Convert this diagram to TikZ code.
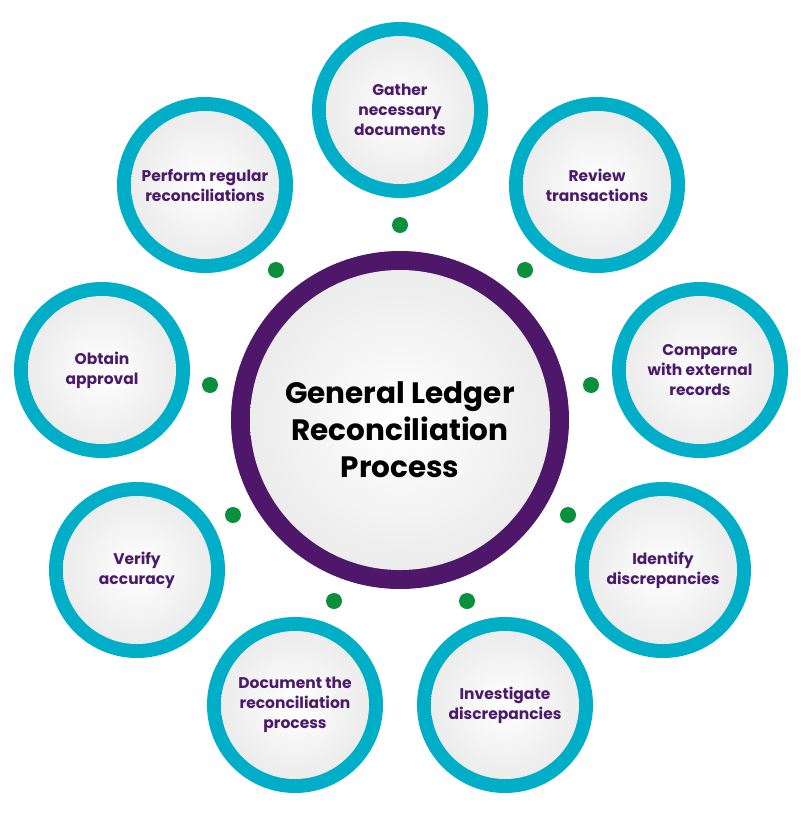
\documentclass[tikz,border=0pt]{standalone}
\usepackage{fontspec}
\setmainfont{Poppins}
\definecolor{teal1}{HTML}{00AEC7}
\definecolor{purp}{HTML}{4F1769}
\definecolor{txt}{HTML}{4B1A6B}
\definecolor{dotg}{HTML}{0A8F3C}
\begin{document}
\begin{tikzpicture}[x=1pt,y=-1pt,
  ring/.style={circle,fill=teal1,minimum size=176pt,inner sep=0pt},
  face/.style={circle,inner color=white,outer color=gray!15,minimum size=148pt,inner sep=0pt,
     font=\fontsize{15.5}{20}\selectfont\bfseries,text=txt,align=center},
  gdot/.style={circle,fill=dotg,minimum size=16pt,inner sep=0pt}]
\useasboundingbox (0,0) rectangle (800,824);
\node[circle,fill=purp,minimum size=338pt] (cr) at (400,420) {};
\node[circle,inner color=white,outer color=gray!15,minimum size=300pt,inner sep=0pt] (c) at (400,420) {};
\node[font=\fontsize{29.5}{37}\selectfont\bfseries,align=center] (ct) at (400,430)
  {General Ledger\\Reconciliation\\Process};
\foreach \n/\x/\y/\t in {
  a/400/110/{Gather\\necessary\\documents},
  b/597/185/{Review\\transactions},
  d/700/370/{Compare\\with external\\records},
  e/663/570/{Identify\\discrepancies},
  f/505/705/{Investigate\\discrepancies},
  g/295/705/{Document the\\reconciliation\\process},
  h/137/570/{Verify\\accuracy},
  i/102/370/{Obtain\\approval},
  j/205/185/{Perform regular\\reconciliations}}{
  \node[ring] (r\n) at (\x,\y) {};
  \node[face] (\n) at (\x,\y) {\t};
}
\foreach \n/\x/\y in {1/400/225,2/525/270,3/591/385,4/568/515,5/467/601,6/334/601,7/233/515,8/210/385,9/276/270}
  \node[gdot] (dot\n) at (\x,\y) {};
\end{tikzpicture}
\end{document}
